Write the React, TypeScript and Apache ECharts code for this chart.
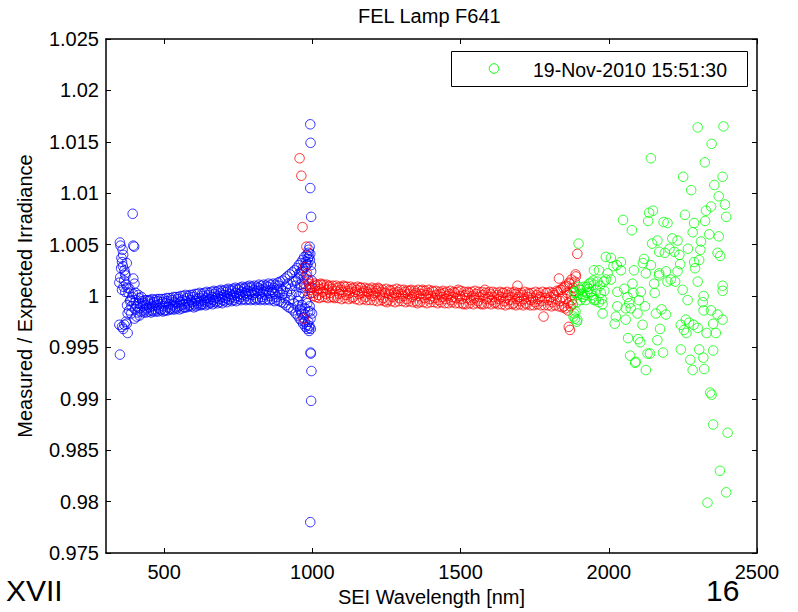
import React, { useEffect, useRef } from "react";
import * as echarts from "echarts";

const TITLE = "FEL Lamp F641";
const X_NAME = "SEI Wavelength [nm]";
const Y_NAME = "Measured / Expected Irradiance";
const LEGEND_NAME = "19-Nov-2010 15:51:30";
const SLIDE_LEFT = "XVII";
const SLIDE_RIGHT = "16";

const xTicks = [500, 1000, 1500, 2000, 2500];
const xTickLabels = ["500", "1000", "1500", "2000", "2500"];
const yTicks = [0.975, 0.98, 0.985, 0.99, 0.995, 1, 1.005, 1.01, 1.015, 1.02, 1.025];
const yTickLabels = ["0.975", "0.98", "0.985", "0.99", "0.995", "1", "1.005", "1.01", "1.015", "1.02", "1.025"];

// Blue: wavelength [nm], ratio
const blueData: number[][] = [
  [394, 1.008], [351, 1.0052], [396, 1.0049], [399, 1.0048], [360, 1.0045], [362, 1.004], [358, 1.0033],
  [374, 1.0032], [355, 1.0027], [366, 1.0025], [370, 1.002], [396, 1.0017], [349, 1.0013], [372, 1.0011],
  [377, 1.0008], [358, 1.0006], [400, 1.0012], [365, 1.0015], [380, 1.0003], [375, 0.9991], [382, 0.9986],
  [377, 0.9983], [389, 0.9983], [400, 0.9978], [349, 0.9972], [366, 0.9972], [374, 0.9973], [358, 0.997],
  [377, 0.9964], [351, 0.9943], [353, 1.0049], [356, 1.0037], [361, 1.0029], [368, 1.0022], [352, 1.0018],
  [363, 1.0009], [369, 1.0004], [383, 1.0007], [387, 0.9996], [371, 0.9975], [362, 0.9968],
  [385, 0.9995], [390, 0.999], [392, 0.9999], [395, 1.0002], [398, 0.9993], [402, 0.9987], [405, 0.9996],
  [408, 0.999], [410, 0.9984], [412, 0.9993], [415, 0.9998], [418, 0.9988], [420, 0.9992], [423, 0.9985],
  [426, 0.9995], [429, 0.999], [404, 1.0003], [407, 0.998], [413, 1.0001], [417, 0.9981], [424, 0.9999],
  [430, 0.9993], [434, 0.9986], [438, 0.9991], [442, 0.9988], [446, 0.9995], [450, 0.9989], [454, 0.9992],
  [458, 0.9986], [462, 0.999], [466, 0.9994], [470, 0.9987], [474, 0.9991], [478, 0.9995], [482, 0.9988],
  [486, 0.9992], [490, 0.9987], [494, 0.9994], [498, 0.999], [502, 0.9986], [506, 0.9993], [510, 0.9995],
  [514, 0.9989], [518, 0.9992], [522, 0.9988], [526, 0.9996], [530, 0.9991], [534, 0.9994], [538, 0.9989],
  [542, 0.9993], [546, 0.9997], [550, 0.999], [554, 0.9994], [558, 0.9991], [562, 0.9996], [566, 0.9992],
  [570, 0.9989], [574, 0.9995], [578, 0.9998], [582, 0.9993], [586, 0.9991], [590, 0.9996], [594, 0.9994],
  [598, 0.9999], [602, 0.9992], [606, 0.9995], [610, 0.9997], [614, 0.9993], [618, 0.9998], [622, 0.9995],
  [626, 0.9992], [630, 1.0], [634, 0.9996], [638, 0.9994], [642, 0.9998], [646, 0.9995], [650, 1.0001],
  [654, 0.9997], [658, 0.9994], [662, 0.9999], [666, 0.9996], [670, 1.0002], [674, 0.9998], [678, 0.9995],
  [682, 1.0], [686, 0.9997], [690, 1.0003], [694, 0.9999], [698, 0.9996], [702, 1.0001], [706, 0.9998],
  [710, 1.0004], [714, 1.0], [718, 0.9997], [722, 1.0002], [726, 0.9999], [730, 1.0005], [734, 1.0001],
  [738, 0.9998], [742, 1.0003], [746, 1.0], [750, 1.0006], [754, 1.0002], [758, 0.9999], [762, 1.0004],
  [766, 1.0001], [770, 1.0007], [774, 1.0003], [778, 1.0], [782, 1.0005], [786, 1.0002], [790, 1.0008],
  [794, 1.0004], [798, 1.0001], [802, 1.0006], [806, 1.0003], [810, 0.9998], [814, 1.0005], [818, 1.0008],
  [822, 1.0002], [826, 1.0006], [830, 0.9999], [834, 1.0004], [838, 1.0007], [842, 1.0001], [846, 1.0005],
  [850, 1.0009], [854, 1.0003], [858, 1.0], [862, 1.0006], [866, 1.0004], [870, 1.0008], [874, 1.0002],
  [878, 0.9999], [882, 1.0006], [886, 1.001], [890, 1.0003], [894, 1.0007], [898, 1.0001], [902, 1.0005],
  [906, 0.9998], [910, 1.0009], [914, 1.0003], [918, 1.0012], [922, 0.9996], [926, 1.0007], [930, 1.0001],
  [934, 1.0014], [938, 0.9993], [942, 1.001], [946, 1.0004], [950, 0.999], [952, 1.0017], [955, 1.0],
  [958, 0.9987], [960, 1.0021], [962, 1.0008], [964, 0.9983], [966, 1.0024], [968, 1.0003], [970, 0.9979],
  [972, 1.0012], [974, 0.9975], [976, 1.0028], [978, 0.9996], [980, 1.002], [982, 0.9972], [984, 1.0031],
  [986, 0.9985], [988, 1.0038], [990, 0.9969], [992, 1.0008], [993, 1.0041], [994, 0.9978], [996, 1.0024],
  [988, 1.0045], [991, 1.0048], [985, 1.0036], [978, 1.0033], [990, 0.9971], [995, 0.9968], [993, 0.9985],
  [432, 0.9984], [436, 0.9996], [440, 0.9984], [444, 0.9996], [448, 0.9985], [452, 0.9996], [456, 0.9984],
  [460, 0.9997], [464, 0.9985], [468, 0.9996], [472, 0.9985], [476, 0.9997], [480, 0.9985], [484, 0.9997],
  [488, 0.9986], [492, 0.9997], [496, 0.9985], [500, 0.9997], [504, 0.9986], [508, 0.9998], [512, 0.9986],
  [516, 0.9998], [520, 0.9987], [524, 0.9998], [528, 0.9987], [532, 0.9999], [536, 0.9987], [540, 0.9999],
  [544, 0.9988], [548, 0.9999], [552, 0.9987], [556, 1.0], [560, 0.9988], [564, 1.0], [568, 0.9989],
  [572, 1.0001], [576, 0.9989], [580, 1.0], [584, 0.999], [588, 1.0001], [592, 0.999], [596, 1.0001],
  [600, 0.9989], [604, 1.0002], [608, 0.999], [612, 1.0002], [616, 0.9991], [620, 1.0003], [624, 0.9991],
  [628, 1.0002], [632, 0.9992], [636, 1.0003], [640, 0.9991], [644, 1.0004], [648, 0.9992], [652, 1.0003],
  [656, 0.9993], [660, 1.0004], [664, 0.9992], [668, 1.0005], [672, 0.9994], [676, 1.0004], [680, 0.9993],
  [684, 1.0005], [688, 0.9994], [692, 1.0006], [696, 0.9993], [700, 1.0005], [704, 0.9995], [708, 1.0006],
  [712, 0.9994], [716, 1.0007], [720, 0.9996], [724, 1.0006], [728, 0.9995], [732, 1.0007], [736, 0.9996],
  [740, 1.0008], [744, 0.9995], [748, 1.0007], [752, 0.9997], [756, 1.0008], [760, 0.9996], [764, 1.0009],
  [768, 0.9997], [772, 1.0008], [776, 0.9996], [780, 1.0009], [784, 0.9997], [788, 1.001], [792, 0.9996],
  [796, 1.0009], [800, 0.9997], [804, 1.001], [808, 0.9996], [812, 1.0009], [816, 0.9997], [820, 1.0011],
  [824, 0.9996], [828, 1.001], [832, 0.9997], [836, 1.0011], [840, 0.9996], [844, 1.001], [848, 0.9997],
  [852, 1.0012], [856, 0.9996], [860, 1.0011], [864, 0.9997], [868, 1.0012], [872, 0.9995], [876, 1.0011],
  [880, 0.9996], [884, 1.0013], [888, 0.9995], [892, 1.0014], [896, 0.9994], [900, 1.0015], [904, 0.9993],
  [908, 1.0017], [912, 0.9991], [916, 1.0019], [920, 0.9989], [924, 1.0021], [928, 0.9988], [932, 1.0023],
  [936, 0.9986], [940, 1.0025], [944, 0.9983], [948, 1.0027], [951, 0.9981], [954, 1.003], [957, 0.9978],
  [961, 1.0032], [963, 0.9976], [967, 1.0035], [969, 0.9973], [973, 1.0038], [977, 0.997], [981, 1.004],
  [983, 0.9968], [987, 1.0042], [989, 0.9966],
  [945, 1.0015], [953, 0.9995], [959, 1.0011], [965, 0.9991], [971, 1.0018], [975, 0.9988], [979, 1.0008],
  [983, 0.9993], [987, 1.0015], [991, 0.999], [995, 1.003], [997, 1.0003], [999, 0.9983], [998, 1.0015],
  [956, 1.0022], [962, 0.9985], [968, 1.0027], [974, 0.9982], [980, 1.003], [986, 0.9975], [992, 1.0035],
  [993, 1.0167], [994, 1.0149], [993, 1.0105], [996, 1.0077], [995, 0.9944], [994, 0.9945], [997, 0.9927],
  [996, 0.9898], [993, 0.978],
];

// Red: wavelength [nm], ratio
const redData: number[][] = [
  [957, 1.0134], [963, 1.0117], [967, 1.0067], [980, 1.0048], [971, 0.9978], [982, 1.0022], [975, 1.0028],
  [985, 1.0016], [978, 1.001], [988, 1.0012], [992, 1.0006], [996, 1.0009], [990, 1.0002],
  [1000, 1.0008], [1005, 1.0003], [1010, 1.001], [1015, 1.0005], [1020, 1.0001], [1025, 1.0007],
  [1030, 1.0011], [1035, 1.0004], [1040, 1.0008], [1045, 1.0002], [1050, 1.0006], [1055, 1.0009],
  [1060, 1.0003], [1066, 1.0007], [1072, 0.9999], [1078, 1.0005], [1084, 1.0008], [1090, 1.0002],
  [1096, 1.0006], [1102, 1.0004], [1108, 1.0009], [1114, 1.0001], [1120, 1.0005], [1126, 1.0003],
  [1132, 1.0007], [1138, 0.9999], [1144, 1.0004], [1150, 1.0006], [1156, 1.0002], [1162, 1.0008],
  [1168, 1.0003], [1174, 1.0005], [1180, 0.9999], [1186, 1.0004], [1192, 1.0002], [1198, 1.0006],
  [1204, 1.0], [1210, 1.0003], [1216, 1.0005], [1222, 1.0008], [1228, 1.0001], [1234, 1.0004],
  [1240, 0.9998], [1246, 1.0003], [1252, 0.9994], [1258, 1.0002], [1264, 1.0005], [1270, 0.9999],
  [1276, 1.0003], [1282, 1.0001], [1288, 1.0004], [1294, 0.9998], [1300, 1.0002], [1306, 1.0],
  [1312, 1.0004], [1318, 0.9997], [1324, 1.0002], [1330, 1.0005], [1336, 0.9999], [1342, 1.0001],
  [1348, 1.0003], [1354, 0.9993], [1360, 1.0], [1366, 1.0002], [1372, 1.0006], [1378, 0.9998],
  [1384, 1.0001], [1390, 1.0003], [1396, 0.9997], [1402, 1.0], [1408, 1.0004], [1414, 0.9998],
  [1420, 1.0001], [1426, 0.9996], [1432, 1.0002], [1438, 0.9999], [1444, 1.0003], [1450, 0.9997],
  [1456, 1.0], [1462, 1.0002], [1468, 0.9996], [1474, 0.9999], [1480, 1.0003], [1486, 0.9998],
  [1492, 1.0006], [1498, 1.0], [1504, 0.9997], [1510, 0.9992], [1516, 1.0001], [1522, 0.9998],
  [1528, 1.0003], [1534, 0.9996], [1540, 1.0], [1546, 0.9998], [1552, 1.0002], [1558, 0.9995],
  [1564, 0.9999], [1570, 0.9992], [1576, 1.0001], [1582, 1.0006], [1588, 0.9997], [1594, 0.9999],
  [1600, 1.0002], [1606, 0.9996], [1612, 0.9999], [1618, 0.9994], [1624, 1.0001], [1630, 0.9997],
  [1636, 0.9999], [1642, 1.0003], [1648, 0.9995], [1654, 0.9998], [1660, 1.0001], [1666, 0.9996],
  [1672, 0.9999], [1678, 0.9993], [1684, 1.0002], [1690, 0.9997], [1692, 1.001], [1696, 0.9999],
  [1702, 0.9995], [1708, 1.0001], [1714, 0.9997], [1720, 0.9993], [1726, 0.9999], [1732, 1.0002],
  [1738, 0.9996], [1744, 0.9998], [1750, 0.9994], [1756, 1.0001], [1762, 0.9997], [1768, 0.9999],
  [1774, 0.9995], [1780, 0.998], [1786, 0.9998], [1792, 1.0003], [1798, 0.9996], [1804, 0.9999],
  [1810, 0.9994], [1816, 1.0001], [1822, 0.9997], [1828, 1.0004], [1832, 1.0017], [1836, 0.9995],
  [1840, 1.0006], [1844, 0.9999], [1849, 0.999], [1852, 1.0009], [1856, 0.9997], [1860, 1.0003],
  [1864, 0.9993], [1865, 0.997], [1869, 0.9967], [1868, 1.0012], [1872, 1.0], [1876, 0.9996],
  [1880, 1.0008], [1885, 1.0014], [1888, 1.0021], [1889, 1.0019], [1894, 1.0041],
  [1003, 1.0], [1008, 1.0012], [1013, 0.9999], [1018, 1.0011], [1023, 0.9998], [1028, 1.0012],
  [1033, 0.9999], [1038, 1.0011], [1043, 0.9999], [1048, 1.0011], [1053, 0.9998], [1058, 1.001],
  [1063, 0.9999], [1069, 1.001], [1075, 0.9998], [1081, 1.001], [1087, 0.9998], [1093, 1.0009],
  [1099, 0.9997], [1105, 1.001], [1111, 0.9998], [1117, 1.0009], [1123, 0.9997], [1129, 1.0009],
  [1135, 0.9998], [1141, 1.0008], [1147, 0.9997], [1153, 1.0009], [1159, 0.9996], [1165, 1.0008],
  [1171, 0.9997], [1177, 1.0008], [1183, 0.9996], [1189, 1.0007], [1195, 0.9996], [1201, 1.0008],
  [1207, 0.9996], [1213, 1.0007], [1219, 0.9995], [1225, 1.0007], [1231, 0.9996], [1237, 1.0006],
  [1243, 0.9995], [1249, 1.0007], [1255, 0.9996], [1261, 1.0006], [1267, 0.9995], [1273, 1.0006],
  [1279, 0.9994], [1285, 1.0007], [1291, 0.9995], [1297, 1.0006], [1303, 0.9995], [1309, 1.0006],
  [1315, 0.9994], [1321, 1.0005], [1327, 0.9995], [1333, 1.0006], [1339, 0.9994], [1345, 1.0005],
  [1351, 0.9995], [1357, 1.0006], [1363, 0.9994], [1369, 1.0005], [1375, 0.9994], [1381, 1.0005],
  [1387, 0.9993], [1393, 1.0006], [1399, 0.9994], [1405, 1.0005], [1411, 0.9994], [1417, 1.0005],
  [1423, 0.9993], [1429, 1.0004], [1435, 0.9994], [1441, 1.0005], [1447, 0.9993], [1453, 1.0004],
  [1459, 0.9993], [1465, 1.0005], [1471, 0.9994], [1477, 1.0004], [1483, 0.9993], [1489, 1.0004],
  [1495, 0.9993], [1501, 1.0005], [1507, 0.9993], [1513, 1.0004], [1519, 0.9992], [1525, 1.0004],
  [1531, 0.9993], [1537, 1.0004], [1543, 0.9992], [1549, 1.0005], [1555, 0.9993], [1561, 1.0004],
  [1567, 0.9993], [1573, 1.0004], [1579, 0.9992], [1585, 1.0003], [1591, 0.9993], [1597, 1.0004],
  [1603, 0.9992], [1609, 1.0004], [1615, 0.9993], [1621, 1.0003], [1627, 0.9992], [1633, 1.0004],
  [1639, 0.9992], [1645, 1.0003], [1651, 0.9991], [1657, 1.0004], [1663, 0.9992], [1669, 1.0003],
  [1675, 0.9992], [1681, 1.0004], [1687, 0.9991], [1693, 1.0003], [1699, 0.9992], [1705, 1.0003],
  [1711, 0.9991], [1717, 1.0004], [1723, 0.9992], [1729, 1.0003], [1735, 0.9991], [1741, 1.0003],
  [1747, 0.9991], [1753, 1.0004], [1759, 0.9992], [1765, 1.0003], [1771, 0.9991], [1777, 1.0004],
  [1783, 0.9991], [1789, 1.0003], [1795, 0.9991], [1801, 1.0004], [1807, 0.999], [1813, 1.0003],
  [1819, 0.9991], [1825, 1.0005], [1831, 0.999], [1837, 1.0006], [1843, 0.9989], [1847, 1.0008],
  [1854, 0.9988], [1858, 1.001], [1862, 0.9986], [1866, 1.0013], [1871, 0.999], [1874, 1.0016],
  [1878, 0.9992], [1882, 1.0005],
];

// Green: wavelength [nm], ratio
const greenData: number[][] = [
  [2300, 1.0164], [2387, 1.0165], [2347, 1.0148], [2142, 1.0134], [2324, 1.013], [2251, 1.0116],
  [2384, 1.0116], [2278, 1.0103], [2356, 1.0108], [2371, 1.0097], [2392, 1.0089], [2396, 1.0077],
  [2136, 1.0081], [2149, 1.0083], [2133, 1.0073], [2048, 1.0074], [2078, 1.0064], [2257, 1.0079],
  [2185, 1.0072], [2198, 1.0071], [2288, 1.0071], [2283, 1.0062], [2328, 1.0083], [2345, 1.0087],
  [2325, 1.0073], [2339, 1.006], [2371, 1.0058], [2146, 1.0051], [2164, 1.0054], [2214, 1.0056],
  [2232, 1.0054], [2267, 1.0046], [2311, 1.0053], [2309, 1.0045], [2205, 1.0046], [2221, 1.0043],
  [2238, 1.004], [2170, 1.0043], [2189, 1.0042], [2367, 1.0042], [2376, 1.0039], [1898, 1.0051],
  [1990, 1.0038], [2007, 1.0037], [2041, 1.0033], [2027, 1.003], [2119, 1.0036], [2115, 1.0032],
  [2142, 1.003], [2085, 1.0025], [2125, 1.0022], [2170, 1.0022], [2193, 1.0024], [2232, 1.0024],
  [2288, 1.0033], [2305, 1.0035], [2291, 1.0027], [2300, 1.0014], [2241, 1.0031], [1950, 1.0025],
  [1967, 1.0025], [1996, 1.0022], [2016, 1.0029], [2041, 1.0025], [1984, 1.0014], [2007, 1.0016],
  [2029, 1.0004], [1939, 1.0013], [1926, 1.0009], [1905, 1.0006], [1914, 0.9999], [2080, 1.0012],
  [2052, 1.0007], [2083, 1.0003], [2108, 1.0004], [2063, 0.9999], [2102, 0.9996], [2153, 1.0012],
  [2170, 1.002], [2155, 1.0003], [2198, 1.0014], [2209, 1.0016], [2224, 1.0014], [2249, 1.0006],
  [2266, 0.9996], [2320, 1.0], [2317, 0.9994], [2384, 1.001], [2384, 1.0005], [1950, 0.9996],
  [1967, 0.9994], [1979, 0.9992], [2029, 0.999], [2057, 0.9988], [2069, 0.9993], [2074, 0.9988],
  [2122, 0.999], [2097, 0.9983], [2024, 0.998], [2020, 0.9973], [2057, 0.9977], [1979, 0.9983],
  [1883, 0.9983], [1881, 0.998], [1894, 0.9977], [2114, 0.9972], [2159, 0.9983], [2178, 0.9987],
  [2193, 0.9982], [2243, 0.9972], [2260, 0.9977], [2271, 0.9974], [2286, 0.9972], [2300, 0.9969],
  [2262, 0.9964], [2254, 0.9967], [2330, 0.9964], [2361, 0.9964], [2352, 0.9973], [2345, 0.9986],
  [2367, 0.9982], [2384, 0.9977], [2320, 0.9986], [2173, 0.9968], [2065, 0.9959], [2099, 0.9958],
  [2106, 0.9955], [2164, 0.9957], [2072, 0.9942], [2091, 0.9936], [2089, 0.9935], [2131, 0.9944],
  [2139, 0.9944], [2183, 0.9945], [2125, 0.9928], [2243, 0.9948], [2275, 0.9938], [2283, 0.9928],
  [2305, 0.9948], [2319, 0.994], [2322, 0.9929], [2352, 0.9947], [2342, 0.9906], [2347, 0.9904],
  [2352, 0.9875], [2401, 0.9867], [2375, 0.983], [2396, 0.9809], [2333, 0.9799],
  [1903, 1.0006], [1917, 1.0009], [1934, 1.0012], [1950, 1.0011], [1911, 0.9999], [1928, 1.0003],
  [1905, 0.9996], [1939, 1.0004], [1883, 1.0003], [1956, 0.9996], [1962, 1.0014], [1973, 1.0003],
  [1990, 1.0016], [1920, 1.0001], [1945, 0.9998], [1895, 1.0001], [1888, 0.9985],
  [1886, 1.0004], [1892, 0.9994], [1898, 1.0009], [1908, 1.0002], [1922, 0.9996], [1932, 1.0007],
  [1942, 1.0001], [1948, 1.0015], [1958, 1.0006], [1970, 1.001], [1976, 0.9997], [1985, 1.0005],
  [1892, 0.9975], [1886, 0.9978],
];

const FONT = '"Liberation Sans", Arial, Helvetica, sans-serif';
const X_MIN = 304;
const X_MAX = 2500;
const Y_MIN = 0.975;
const Y_MAX = 1.025;

function tickLabel(ticks: number[], labels: string[], v: number): string {
  for (let i = 0; i < ticks.length; i++) {
    if (Math.abs(ticks[i] - v) < 1e-9) return labels[i];
  }
  return "";
}

export default function App() {
  const ref = useRef<HTMLDivElement>(null);

  useEffect(() => {
    if (!ref.current) return;
    const chart = echarts.init(ref.current, null, { renderer: "svg" });
    const axisLine = { show: true, onZero: false, lineStyle: { color: "#000", width: 1.5 } };
    const tickStyle = { color: "#000", width: 1 };
    const labelStyle = { color: "#000", fontSize: 20, fontFamily: FONT };
    const marker = (c: string) => ({ color: "transparent", borderColor: c, borderWidth: 1 });
    const SYM = 9.5;

    chart.setOption({
      animation: false,
      backgroundColor: "#fff",
      title: {
        text: TITLE,
        left: 358,
        top: 6,
        padding: 0,
        textStyle: { color: "#000", fontSize: 20, fontWeight: "normal", fontFamily: FONT, lineHeight: 20 },
      },
      grid: { left: 106, right: 41, top: 39, bottom: 59, containLabel: false },
      xAxis: [
        {
          type: "value",
          min: X_MIN,
          max: X_MAX,
          position: "bottom",
          axisLine,
          axisTick: { show: true, inside: true, length: 5, customValues: xTicks, lineStyle: tickStyle },
          axisLabel: {
            show: true,
            customValues: xTicks,
            margin: 9,
            formatter: (v: number) => tickLabel(xTicks, xTickLabels, v),
            ...labelStyle,
          },
          splitLine: { show: false },
          name: X_NAME,
          nameLocation: "middle",
          nameGap: 34,
          nameTextStyle: { ...labelStyle },
        },
        {
          type: "value",
          min: X_MIN,
          max: X_MAX,
          position: "top",
          axisLine,
          axisTick: { show: true, inside: true, length: 5, customValues: xTicks, lineStyle: tickStyle },
          axisLabel: { show: false },
          splitLine: { show: false },
        },
      ],
      yAxis: [
        {
          type: "value",
          min: Y_MIN,
          max: Y_MAX,
          position: "left",
          axisLine,
          axisTick: { show: true, inside: true, length: 5, customValues: yTicks, lineStyle: tickStyle },
          axisLabel: {
            show: true,
            customValues: yTicks,
            margin: 7,
            formatter: (v: number) => tickLabel(yTicks, yTickLabels, v),
            ...labelStyle,
          },
          splitLine: { show: false },
          name: Y_NAME,
          nameLocation: "middle",
          nameGap: 71,
          nameTextStyle: { ...labelStyle },
        },
        {
          type: "value",
          min: Y_MIN,
          max: Y_MAX,
          position: "right",
          axisLine,
          axisTick: { show: true, inside: true, length: 5, customValues: yTicks, lineStyle: tickStyle },
          axisLabel: { show: false },
          splitLine: { show: false },
        },
      ],
      series: [
        {
          name: "blue",
          type: "scatter",
          symbol: "circle",
          symbolSize: SYM,
          itemStyle: marker("#0000ff"),
          data: blueData,
          z: 2,
        },
        {
          name: "red",
          type: "scatter",
          symbol: "circle",
          symbolSize: SYM,
          itemStyle: marker("#ff0000"),
          data: redData,
          z: 3,
        },
        {
          name: LEGEND_NAME,
          type: "scatter",
          symbol: "circle",
          symbolSize: SYM,
          itemStyle: marker("#00ff00"),
          data: greenData,
          z: 4,
        },
      ],
      graphic: [
        {
          type: "rect",
          shape: { x: 451.5, y: 51.5, width: 296, height: 35 },
          style: { fill: "#fff", stroke: "#000", lineWidth: 1 },
          z: 100,
          silent: true,
        },
        {
          type: "circle",
          shape: { cx: 494, cy: 68.5, r: 4.75 },
          style: { fill: "none", stroke: "#00ff00", lineWidth: 1 },
          z: 101,
          silent: true,
        },
        {
          type: "text",
          x: 533,
          y: 69.5,
          style: {
            text: LEGEND_NAME,
            fontSize: 19.5,
            fontFamily: FONT,
            fill: "#000",
            align: "left",
            verticalAlign: "middle",
          },
          z: 101,
          silent: true,
        },
        {
          type: "text",
          left: 6,
          top: 575,
          style: { text: SLIDE_LEFT, fontSize: 30, fontFamily: FONT, fill: "#000" },
          silent: true,
        },
        {
          type: "text",
          left: 706,
          top: 575,
          style: { text: SLIDE_RIGHT, fontSize: 30, fontFamily: FONT, fill: "#000" },
          silent: true,
        },
      ],
    });

    return () => {
      chart.dispose();
    };
  }, []);

  return (
    <div
      ref={ref}
      style={{ position: "fixed", left: 0, top: 0, width: 798, height: 612, background: "#fff" }}
    />
  );
}
